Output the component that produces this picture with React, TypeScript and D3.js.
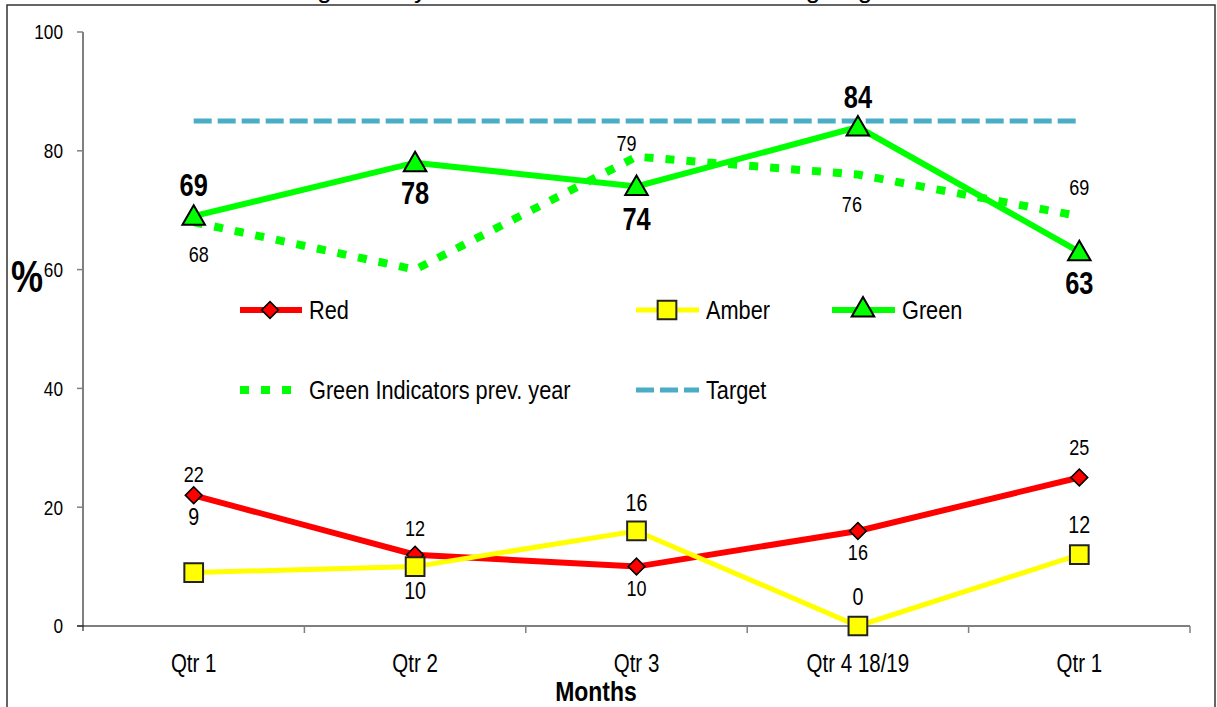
import React from "react";
import * as d3 from "d3";

const categories = ["Qtr 1", "Qtr 2", "Qtr 3", "Qtr 4 18/19", "Qtr 1"];
const greenValues = [69, 78, 74, 84, 63];
const prevYearValues = [68, 60, 79, 76, 69];
const prevYearLabels: (number | null)[] = [68, null, 79, 76, 69];
const redValues = [22, 12, 10, 16, 25];
const amberValues = [9, 10, 16, 0, 12];
const targetValue = 85;
const yTicks = [0, 20, 40, 60, 80, 100];

// label offsets (style only): vertical distance of label centre from point
const greenLabelDy = [-31, 30, 33, -30, 31];
const prevLabelDy = [32, 0, -13, 30, -29];
const prevLabelDx = [5, 0, -10, -6, 0];
const redLabelDy = [-21, -26, 22, 21, -30];
const amberLabelDy = [-56, 24, -28, -29, -30];

const W = 1217;
const H = 707;
const FONT = "'Liberation Sans', Arial, sans-serif";
const NARROW = 0.82;

type TProps = {
  x: number;
  y: number;
  size: number;
  anchor?: "start" | "middle" | "end";
  bold?: boolean;
  children: React.ReactNode;
};

function T({ x, y, size, anchor = "start", bold = false, children }: TProps) {
  return (
    <text
      transform={`translate(${x},${y}) scale(${NARROW},1)`}
      dy="0.35em"
      textAnchor={anchor}
      fontSize={size}
      fontWeight={bold ? "bold" : "normal"}
      fill="#000"
    >
      {children}
    </text>
  );
}

export default function App() {
  const x = d3.scaleBand<number>().domain(categories.map((_, i) => i)).range([83, 1190]);
  const y = d3.scaleLinear().domain([0, 100]).range([626, 32]);
  const cx = (i: number) => (x(i) as number) + x.bandwidth() / 2;

  const line = d3
    .line<number>()
    .x((_, i) => cx(i))
    .y((d) => y(d));

  const tri = d3.symbol(d3.symbolTriangle, 220)() as string;
  const sq = d3.symbol(d3.symbolSquare, 350)() as string;
  const dia = d3.symbol(d3.symbolSquare, 140)() as string;

  const tickBoundaries = d3.range(categories.length + 1).map((i) =>
    i < categories.length ? (x(i) as number) : (x(categories.length - 1) as number) + x.bandwidth()
  );

  const triMarker = (px: number, py: number, key: string) => (
    <path key={key} d={tri} transform={`translate(${px},${py + 2})`} fill="#00ff00" stroke="#000" strokeWidth={2} />
  );
  const sqMarker = (px: number, py: number, key: string) => (
    <path key={key} d={sq} transform={`translate(${px},${py})`} fill="#ffff00" stroke="#222" strokeWidth={2} />
  );
  const diaMarker = (px: number, py: number, key: string) => (
    <path key={key} d={dia} transform={`translate(${px},${py}) rotate(45)`} fill="#ff0000" stroke="#000" strokeWidth={1.6} />
  );

  return (
    <svg
      width={W}
      height={H}
      style={{ position: "absolute", left: 0, top: 0, background: "#fff" }}
      fontFamily={FONT}
    >
      {/* clipped title */}
      <text x={560} y={-2} textAnchor="middle" fontSize={26}>
        Percentage of Key Performance Indicators achieving targets
      </text>
      {/* frame */}
      <rect x={7} y={5} width={1208} height={720} fill="none" stroke="#333" strokeWidth={1.5} />

      {/* y axis */}
      <line x1={83} x2={83} y1={y(100)} y2={y(0) + 5} stroke="#808080" strokeWidth={2} />
      {yTicks.map((t) => (
        <g key={t}>
          <line x1={77} x2={83} y1={y(t)} y2={y(t)} stroke="#808080" strokeWidth={1.5} />
          <T x={63} y={y(t)} size={21} anchor="end">
            {t}
          </T>
        </g>
      ))}
      <text transform={`translate(11,277) scale(${NARROW},1)`} dy="0.35em" fontSize={44} fontWeight="bold">
        %
      </text>

      {/* x axis */}
      <line x1={77} x2={1190} y1={y(0)} y2={y(0)} stroke="#000" strokeWidth={1.2} />
      {tickBoundaries.slice(1).map((b, i) => (
        <line key={i} x1={b} x2={b} y1={y(0)} y2={y(0) + 7} stroke="#808080" strokeWidth={1.5} />
      ))}
      {categories.map((c, i) => (
        <T key={i} x={cx(i)} y={663} size={25} anchor="middle">
          {c}
        </T>
      ))}
      <T x={596} y={691} size={28} anchor="middle" bold>
        Months
      </T>

      {/* target */}
      <path
        d={line(categories.map(() => targetValue)) as string}
        fill="none"
        stroke="#4bacc6"
        strokeWidth={5}
        strokeDasharray="18,6"
      />
      {/* previous year */}
      <path
        d={line(prevYearValues) as string}
        fill="none"
        stroke="#00ff00"
        strokeWidth={8}
        strokeDasharray="9,12"
      />
      {/* red */}
      <path d={line(redValues) as string} fill="none" stroke="#ff0000" strokeWidth={6} />
      {redValues.map((v, i) => diaMarker(cx(i), y(v), "r" + i))}
      {/* amber */}
      <path d={line(amberValues) as string} fill="none" stroke="#ffff00" strokeWidth={5} />
      {amberValues.map((v, i) => sqMarker(cx(i), y(v), "a" + i))}
      {/* green */}
      <path d={line(greenValues) as string} fill="none" stroke="#00ff00" strokeWidth={6} />
      {greenValues.map((v, i) => triMarker(cx(i), y(v), "g" + i))}

      {/* labels */}
      {greenValues.map((v, i) => (
        <T key={"gl" + i} x={cx(i)} y={y(v) + greenLabelDy[i]} size={31} anchor="middle" bold>
          {v}
        </T>
      ))}
      {prevYearLabels.map((v, i) =>
        v === null ? null : (
          <T key={"pl" + i} x={cx(i) + prevLabelDx[i]} y={y(v) + prevLabelDy[i]} size={22} anchor="middle">
            {v}
          </T>
        )
      )}
      {redValues.map((v, i) => (
        <T key={"rl" + i} x={cx(i)} y={y(v) + redLabelDy[i]} size={22} anchor="middle">
          {v}
        </T>
      ))}
      {amberValues.map((v, i) => (
        <T key={"al" + i} x={cx(i)} y={y(v) + amberLabelDy[i]} size={24} anchor="middle">
          {v}
        </T>
      ))}

      {/* legend */}
      <g>
        <line x1={240} x2={302} y1={310} y2={310} stroke="#ff0000" strokeWidth={6} />
        {diaMarker(270, 310, "ld")}
        <T x={309} y={310} size={26.5}>Red</T>

        <line x1={636} x2={699} y1={310} y2={310} stroke="#ffff00" strokeWidth={5} />
        {sqMarker(667, 310, "ls")}
        <T x={706} y={310} size={26.5}>Amber</T>

        <line x1={832} x2={895} y1={310} y2={310} stroke="#00ff00" strokeWidth={6} />
        {triMarker(863, 308, "lt")}
        <T x={902} y={310} size={26.5}>Green</T>

        <line x1={240} x2={302} y1={390} y2={390} stroke="#00ff00" strokeWidth={8} strokeDasharray="9,12" />
        <T x={309} y={390} size={26.5}>Green Indicators prev. year</T>

        <line x1={636} x2={699} y1={390} y2={390} stroke="#4bacc6" strokeWidth={5} strokeDasharray="18,6" />
        <T x={706} y={390} size={26.5}>Target</T>
      </g>
    </svg>
  );
}
